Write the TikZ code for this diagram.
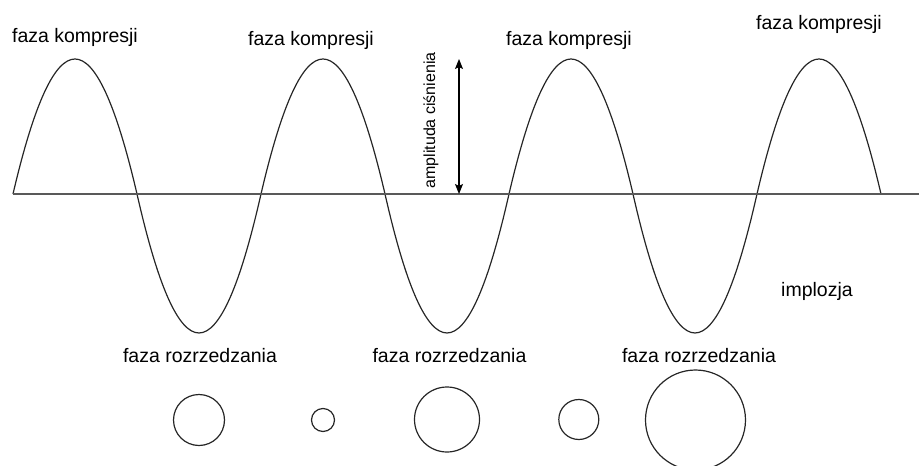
\documentclass[tikz,border=0pt]{standalone}
\usepackage{fontspec}
\setmainfont{Liberation Sans}
\usetikzlibrary{arrows.meta}
\begin{document}
\begin{tikzpicture}[x=1pt,y=-1pt,
  lbl/.style={font=\fontsize{19.5}{23}\selectfont, inner sep=0pt, anchor=base},
  bubble/.style={circle, draw=black!85, line width=1.2pt, inner sep=0pt},
  wave/.style={draw=black!85, line width=1.2pt},
  axis/.style={draw=black!65, line width=1.5pt},
  amp/.style={draw=black, line width=1.1pt, {Stealth[length=10pt,width=8pt,inset=2pt]}-{Stealth[length=10pt,width=8pt,inset=2pt]}}]
\useasboundingbox (0,0) rectangle (919,466);
% wave
\draw[wave] (13,194)
  .. controls (55,14) and (95,14) .. (137,194)
  .. controls (179,379.3) and (219,379.3) .. (261,194)
  .. controls (303,14) and (343,14) .. (385,194)
  .. controls (427,379.3) and (467,379.3) .. (509,194)
  .. controls (551,14) and (591,14) .. (633,194)
  .. controls (675,379.3) and (715,379.3) .. (757,194)
  .. controls (799,14) and (839,14) .. (881,194);
% baseline
\coordinate (base0) at (13,194);
\coordinate (base1) at (919,194);
\draw[axis] (base0) -- (base1);
% amplitude arrow
\coordinate (atop) at (459,59);
\coordinate (abot) at (459,194);
\draw[amp] (atop) -- (abot);
\node[font=\fontsize{16}{19}\selectfont, inner sep=0pt, rotate=90] (amplbl) at (431,120.5) {amplituda ciśnienia};
% labels
\node[lbl] (k1) at (75,42) {faza kompresji};
\node[lbl] (k2) at (311,45) {faza kompresji};
\node[lbl] (k3) at (569,45) {faza kompresji};
\node[lbl] (k4) at (819,29) {faza kompresji};
\node[lbl] (r1) at (200,362) {faza rozrzedzania};
\node[lbl] (r2) at (449.5,362) {faza rozrzedzania};
\node[lbl] (r3) at (699,362) {faza rozrzedzania};
\node[lbl] (imp) at (817,296) {implozja};
% bubbles
\node[bubble, minimum size=51pt] (b1) at (199,420) {};
\node[bubble, minimum size=23pt] (b2) at (323,420) {};
\node[bubble, minimum size=65pt] (b3) at (447,419.5) {};
\node[bubble, minimum size=40pt] (b4) at (578.8,419.5) {};
\node[bubble, minimum size=100pt] (b5) at (695.5,420) {};
\end{tikzpicture}
\end{document}
